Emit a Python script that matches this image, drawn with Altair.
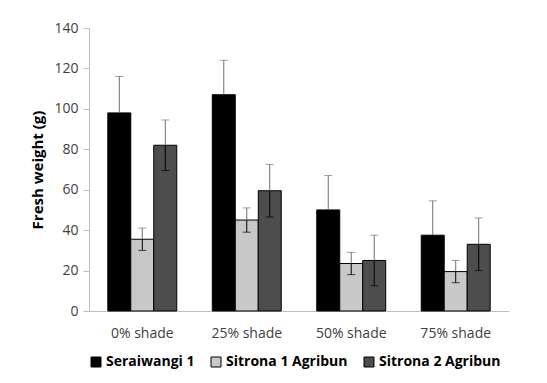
import altair as alt
import pandas as pd

categories = ["0% shade", "25% shade", "50% shade", "75% shade"]
series = ["Seraiwangi 1", "Sitrona 1 Agribun", "Sitrona 2 Agribun"]
seraiwangi = [98, 107, 50, 37.5]
seraiwangi_err = [18, 17, 17, 17]
sitrona1 = [35.5, 45, 23.5, 19.5]
sitrona1_err = [5.5, 6, 5.5, 5.5]
sitrona2 = [82, 59.5, 25, 33]
sitrona2_err = [12.5, 13, 12.5, 13]

rows = []
for s, vals, errs in zip(series, [seraiwangi, sitrona1, sitrona2],
                         [seraiwangi_err, sitrona1_err, sitrona2_err]):
    for c, v, e in zip(categories, vals, errs):
        rows.append({"cat": c, "series": s, "value": v, "lo": v - e, "hi": v + e})
df = pd.DataFrame(rows)

fills = ["#000000", "#c8c8c8", "#4d4d4d"]
font = "Open Sans"

x = alt.X("cat:N", sort=categories, title=None,
          scale=alt.Scale(paddingInner=0.34, paddingOuter=0.18),
          axis=alt.Axis(labelAngle=0, ticks=False, domainColor="#bfbfbf",
                        labelColor="#404040", labelFontSize=14, labelFont=font,
                        labelPadding=15))
xo = alt.XOffset("series:N", sort=series)
yscale = alt.Scale(domain=[0, 140])

base = alt.Chart(df)

bars = base.mark_bar(stroke="#000000", strokeWidth=1).encode(
    x=x, xOffset=xo,
    y=alt.Y("value:Q", scale=yscale, title="Fresh weight (g)",
            axis=alt.Axis(values=[0, 20, 40, 60, 80, 100, 120, 140], grid=False,
                          domainColor="#bfbfbf", tickColor="#bfbfbf", tickSize=6,
                          labelColor="#404040", labelFontSize=14, labelFont=font,
                          labelPadding=5, titleFontSize=15, titleFont=font,
                          titleFontWeight="bold", titleColor="#000000",
                          titlePadding=8)),
    color=alt.Color("series:N", sort=series,
                    scale=alt.Scale(domain=series, range=fills),
                    legend=alt.Legend(orient="bottom", direction="horizontal",
                                      title=None, symbolType="square",
                                      symbolSize=100, symbolStrokeColor="#000000",
                                      symbolStrokeWidth=1,
                                      labelFontSize=14, labelFont=font,
                                      labelFontWeight="bold", labelColor="#000000",
                                      labelOffset=3,
                                      columnPadding=14, offset=15)),
)

up_rule = base.mark_rule(color="#707070", strokeWidth=1).encode(
    x=x, xOffset=xo, y=alt.Y("value:Q", scale=yscale), y2="hi:Q")
lo_rule = base.mark_rule(color="#000000", strokeWidth=1).encode(
    x=x, xOffset=xo, y=alt.Y("lo:Q", scale=yscale), y2="value:Q")
up_cap = base.mark_tick(color="#707070", orient="horizontal", size=8, thickness=1).encode(
    x=x, xOffset=xo, y=alt.Y("hi:Q", scale=yscale))
lo_cap = base.mark_tick(color="#000000", orient="horizontal", size=8, thickness=1).encode(
    x=x, xOffset=xo, y=alt.Y("lo:Q", scale=yscale))

chart = alt.layer(bars, up_rule, lo_rule, up_cap, lo_cap).properties(
    width=420, height=283,
    padding={"left": 22, "top": 13, "right": 5, "bottom": 5},
).configure(background="#ffffff", view=alt.ViewConfig(stroke=None))

chart.save("out.html", embed_options={"renderer": "svg", "actions": False})
